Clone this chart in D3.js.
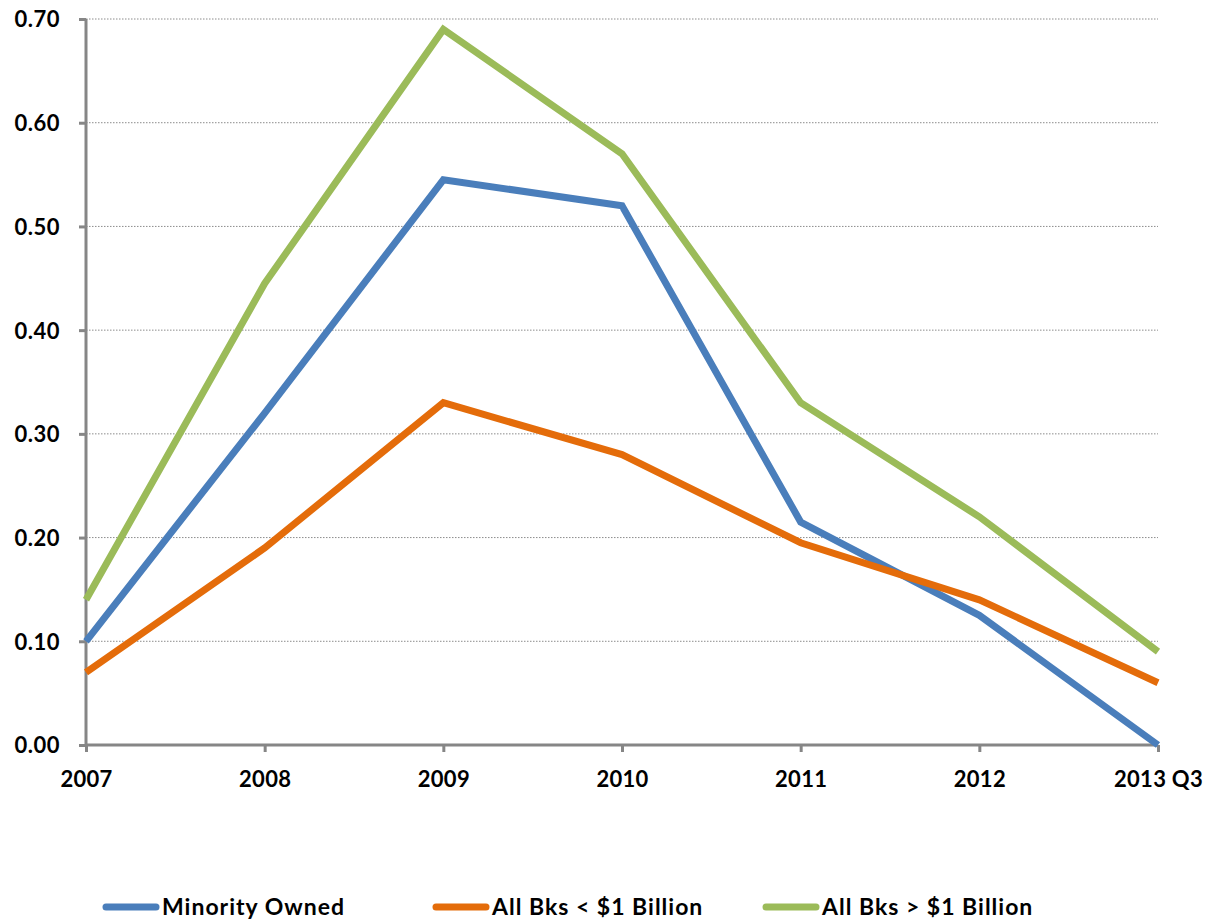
<!DOCTYPE html>
<html><head><meta charset="utf-8">
<script src="https://cdn.jsdelivr.net/npm/d3@7"></script>
<style>body{margin:0;background:#fff}svg{display:block}text{font-family:Lato,"Liberation Sans",sans-serif;font-weight:bold;fill:#000}</style>
</head><body><svg id="c" width="1207" height="922"></svg>
<script>
const categories = ["2007","2008","2009","2010","2011","2012","2013 Q3"];
const minorityOwned = [0.10,0.32,0.545,0.52,0.215,0.125,0.00];
const smallBanks = [0.07,0.19,0.33,0.28,0.195,0.14,0.06];
const largeBanks = [0.14,0.445,0.69,0.57,0.33,0.22,0.09];
const yTicks = [0,0.1,0.2,0.3,0.4,0.5,0.6,0.7];
const seriesNames = ["Minority Owned","All Bks < $1 Billion","All Bks > $1 Billion"];
const colors = ["#4A7EBB","#E46C0A","#9BBB59"];
const series = [minorityOwned, smallBanks, largeBanks];

const svg = d3.select("#c");
const x = d3.scalePoint().domain(categories).range([86,1158]);
const y = d3.scaleLinear().domain([0,0.7]).range([745,19]);

// gridlines
svg.append("g").selectAll("line").data(yTicks.slice(1)).join("line")
  .attr("x1",86).attr("x2",1158).attr("y1",d=>y(d)).attr("y2",d=>y(d))
  .attr("stroke","#8c8c8c").attr("stroke-width",1).attr("stroke-dasharray","1.5,1.5");

const fontFam = "Lato,'Liberation Sans',sans-serif";
// y axis
const ya = svg.append("g").attr("transform","translate(86,0)")
  .call(d3.axisLeft(y).tickValues(yTicks).tickFormat(d3.format(".2f")).tickSize(7).tickPadding(26));
ya.select(".domain").attr("stroke","#868686").attr("stroke-width",3).attr("d","M0,19V745");
ya.selectAll(".tick line").attr("stroke","#868686").attr("stroke-width",3);
ya.selectAll("text").attr("x",-26).attr("dy","0.36em")
  .style("font-size","22px").style("letter-spacing","0.5px").style("font-family",fontFam).style("font-weight","bold").attr("fill","#000");

// x axis
const xa = svg.append("g").attr("transform","translate(0,745)")
  .call(d3.axisBottom(x).tickSize(7).tickPadding(14));
xa.select(".domain").attr("stroke","#868686").attr("stroke-width",3).attr("d","M86,0H1158");
xa.selectAll(".tick line").attr("stroke","#868686").attr("stroke-width",3);
xa.selectAll("text").attr("y",42).attr("dy",0)
  .style("font-size","22px").style("letter-spacing","0.3px").style("font-family",fontFam).style("font-weight","bold").attr("fill","#000");

// lines
const line = d3.line().x((d,i)=>x(categories[i])).y(d=>y(d));
series.forEach((s,k)=>{
  svg.append("path").datum(s).attr("d",line).attr("fill","none")
    .attr("stroke",colors[k]).attr("stroke-width",7).attr("stroke-linejoin","miter");
});

// legend
const legX = [103,433,763];
const lg = svg.append("g");
seriesNames.forEach((n,k)=>{
  lg.append("line").attr("x1",legX[k]+3).attr("x2",legX[k]+53).attr("y1",907).attr("y2",907)
    .attr("stroke",colors[k]).attr("stroke-width",7).attr("stroke-linecap","round");
  lg.append("text").attr("x",legX[k]+59).attr("y",915)
    .style("font-size","23px").style("letter-spacing","1px").text(n);
});
</script></body></html>
